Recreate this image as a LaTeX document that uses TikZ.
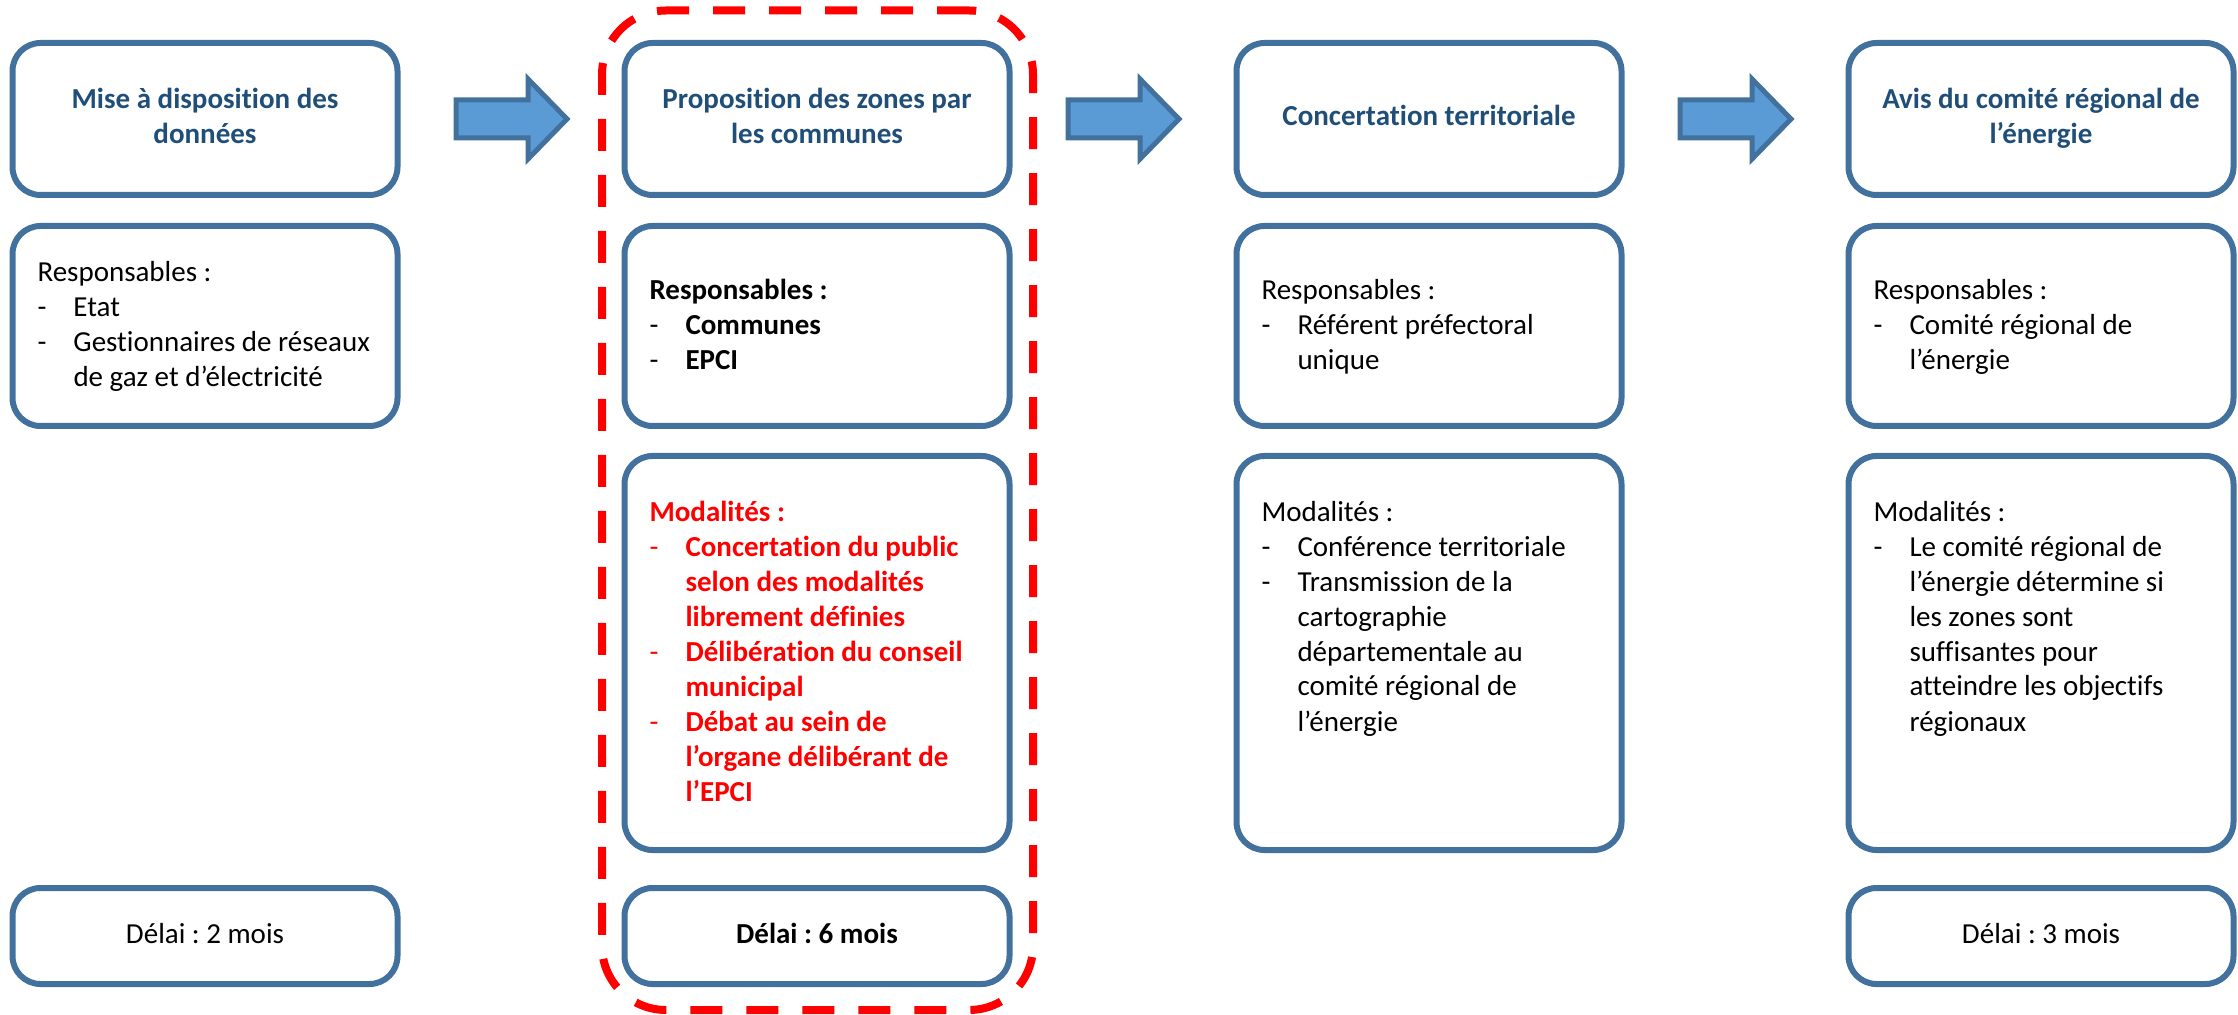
\documentclass[tikz,border=0pt]{standalone}
\usepackage{fontspec}
\setmainfont{Carlito}[Ligatures=NoCommon]
\usetikzlibrary{calc}
\frenchspacing
\definecolor{boxblue}{HTML}{41719C}
\definecolor{arrowfill}{HTML}{5B9BD5}
\definecolor{titleblue}{HTML}{1F4E79}
\definecolor{hlred}{HTML}{FF0000}
\newcommand{\myitem}{\makebox[18pt][l]{\mdseries -}}
\newcommand{\mycont}{\hspace*{18pt}}
\begin{document}
\begin{tikzpicture}[x=0.5pt,y=-0.5pt,
  box/.style={draw=boxblue, line width=3pt, rounded corners=14pt, rectangle, outer sep=0pt, inner sep=0pt, minimum width=192.5pt},
  titlebox/.style={box, minimum height=76pt, font=\fontsize{14.5}{17.5}\selectfont\bfseries, text=titleblue, align=center},
  respbox/.style={box, minimum height=100pt},
  modbox/.style={box, minimum height=197pt},
  delaibox/.style={box, minimum height=48pt, font=\fontsize{14.5}{17.5}\selectfont, align=center},
  body/.style={anchor=north west, inner sep=0pt, outer sep=0pt, align=left, font=\fontsize{14.5}{17.5}\selectfont},
  blockarrow/.style={draw=boxblue, fill=arrowfill, line width=2.5pt, line join=miter},
  grp/.style={draw=hlred, line width=4pt, dash pattern=on 16pt off 12pt, rounded corners=32pt, rectangle, minimum width=215.5pt, minimum height=499.75pt, outer sep=0pt, inner sep=0pt}
]
\useasboundingbox (0,0) rectangle (2238,1015);

% highlight group
\node[grp] (grp) at (817.5,510.25) {};

% column 1
\node[titlebox] (t1) at (205,119) {\strut Mise à disposition des\\\strut données};
\node[respbox] (r1) at (205,326) {};
\node[delaibox] (d1) at (205,936) {\strut Délai : 2 mois};
\node[body] (b1) at ($(r1.north west)+(25,31.5)$) {\strut Responsables :\\
\myitem Etat\\
\myitem Gestionnaires de réseaux\\
\mycont de gaz et d’électricité};

% column 2
\node[titlebox] (t2) at (817,119) {\strut Proposition des zones par\\\strut les communes};
\node[respbox] (r2) at (817,326) {};
\node[modbox] (m2) at (817,653) {};
\node[delaibox, font=\fontsize{14.5}{17.5}\selectfont\bfseries] (d2) at (817,936) {\strut Délai : 6 mois};
\node[body, font=\fontsize{14.5}{17.5}\selectfont\bfseries] (b2) at ($(r2.north west)+(25,49.5)$) {\strut Responsables :\\
\myitem Communes\\
\myitem EPCI};
\node[body, font=\fontsize{14.5}{17.5}\selectfont\bfseries, text=hlred] (c2) at ($(m2.north west)+(25,40.5)$) {\strut Modalités :\\
\myitem Concertation du public\\
\mycont selon des modalités\\
\mycont librement définies\\
\myitem Délibération du conseil\\
\mycont municipal\\
\myitem Débat au sein de\\
\mycont l’organe délibérant de\\
\mycont l’EPCI};

% column 3
\node[titlebox] (t3) at (1429,119) {\strut Concertation territoriale};
\node[respbox] (r3) at (1429,326) {};
\node[modbox] (m3) at (1429,653) {};
\node[body] (b3) at ($(r3.north west)+(25,49.5)$) {\strut Responsables :\\
\myitem Référent préfectoral\\
\mycont unique};
\node[body] (c3) at ($(m3.north west)+(25,40.5)$) {\strut Modalités :\\
\myitem Conférence territoriale\\
\myitem Transmission de la\\
\mycont cartographie\\
\mycont départementale au\\
\mycont comité régional de\\
\mycont l’énergie};

% column 4
\node[titlebox] (t4) at (2041,119) {\strut Avis du comité régional de\\\strut l’énergie};
\node[respbox] (r4) at (2041,326) {};
\node[modbox] (m4) at (2041,653) {};
\node[delaibox] (d4) at (2041,936) {\strut Délai : 3 mois};
\node[body] (b4) at ($(r4.north west)+(25,49.5)$) {\strut Responsables :\\
\myitem Comité régional de\\
\mycont l’énergie};
\node[body] (c4) at ($(m4.north west)+(25,40.5)$) {\strut Modalités :\\
\myitem Le comité régional de\\
\mycont l’énergie détermine si\\
\mycont les zones sont\\
\mycont suffisantes pour\\
\mycont atteindre les objectifs\\
\mycont régionaux};

% block arrows between title boxes
\draw[blockarrow] ($(t1.east)+(58.5,-19)$) -- ++(72,0) -- ++(0,-21) -- ++(39,40) -- ++(-39,40) -- ++(0,-21) -- ++(-72,0) -- cycle;
\draw[blockarrow] ($(t2.east)+(58.5,-19)$) -- ++(72,0) -- ++(0,-21) -- ++(39,40) -- ++(-39,40) -- ++(0,-21) -- ++(-72,0) -- cycle;
\draw[blockarrow] ($(t3.east)+(58.5,-19)$) -- ++(72,0) -- ++(0,-21) -- ++(39,40) -- ++(-39,40) -- ++(0,-21) -- ++(-72,0) -- cycle;
\end{tikzpicture}
\end{document}
